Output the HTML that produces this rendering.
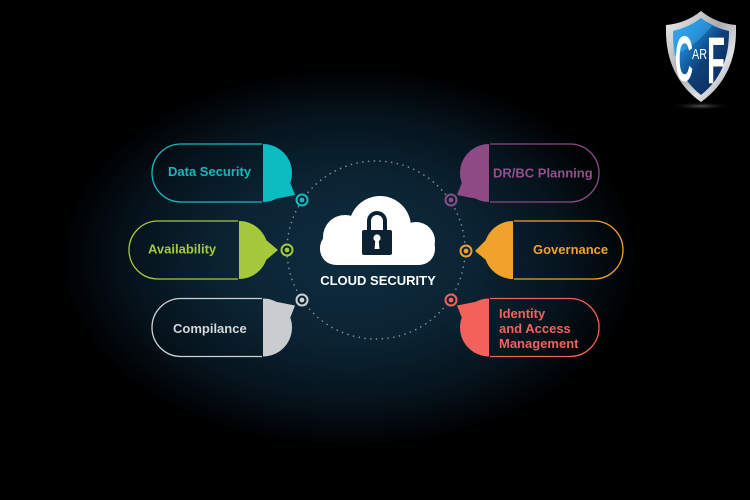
<!DOCTYPE html>
<html>
<head>
<meta charset="utf-8">
<style>
  html,body{margin:0;padding:0;}
  body{width:750px;height:500px;overflow:hidden;background:#000;}
  .bg{position:absolute;left:0;top:0;width:750px;height:500px;
      background:radial-gradient(ellipse 290px 190px at 350px 258px,#0e2c3e 0%,#0b2434 42%,#06141e 74%,#000 100%);}
  svg{position:absolute;left:0;top:0;}
  text{font-family:"Liberation Sans",sans-serif;font-weight:bold;}
</style>
</head>
<body>
<div class="bg"></div>
<svg width="750" height="500" viewBox="0 0 750 500" xmlns="http://www.w3.org/2000/svg">
  <defs>
    <linearGradient id="silver" x1="0" y1="0" x2="1" y2="1">
      <stop offset="0" stop-color="#f2f2f2"/>
      <stop offset="0.45" stop-color="#a9acb0"/>
      <stop offset="0.7" stop-color="#e0e2e4"/>
      <stop offset="1" stop-color="#7d8084"/>
    </linearGradient>
    <linearGradient id="blue" x1="0" y1="0" x2="1" y2="1">
      <stop offset="0" stop-color="#2ba6ef"/>
      <stop offset="0.3" stop-color="#1a7cc8"/>
      <stop offset="0.55" stop-color="#0e3f78"/>
      <stop offset="1" stop-color="#0a2650"/>
    </linearGradient>
    <radialGradient id="shadow" cx="0.5" cy="0.5" r="0.5">
      <stop offset="0" stop-color="#555"/>
      <stop offset="1" stop-color="#000" stop-opacity="0"/>
    </radialGradient>
  </defs>

  <!-- dotted circle -->
  <circle cx="376" cy="250" r="89" fill="none" stroke="#7f9099" stroke-width="1.7" stroke-linecap="round" stroke-dasharray="0 5.8"/>

  <!-- Data Security -->
  <path d="M262 144 L181 144 A29 29 0 0 0 181 202 L262 202" fill="none" stroke="#17b9be" stroke-width="1.3"/>
  <path d="M263 144 A29 29 0 0 1 263 202 Z" fill="#0bbcc1"/>
  <polygon points="290.3,182.9 295,195 276.6,198.6" fill="#0bbcc1"/>
  <text x="168" y="176" font-size="13" fill="#17b9be">Data Security</text>
  <circle cx="302" cy="200" r="5.5" fill="#0a2232" stroke="#17b9be" stroke-width="2"/>
  <circle cx="302" cy="200" r="2.4" fill="#17b9be"/>

  <!-- Availability -->
  <path d="M238 221 L158 221 A29 29 0 0 0 158 279 L238 279" fill="none" stroke="#a5c93b" stroke-width="1.3"/>
  <path d="M239 221 A29 29 0 0 1 239 279 Z" fill="#a5c93b"/>
  <polygon points="266.2,240.1 278,250 266.2,259.9" fill="#a5c93b"/>
  <text x="148" y="253.5" font-size="13" fill="#a5c93b">Availability</text>
  <circle cx="287" cy="250" r="5.5" fill="#0a2232" stroke="#a5c93b" stroke-width="2"/>
  <circle cx="287" cy="250" r="2.4" fill="#a5c93b"/>

  <!-- Compliance -->
  <path d="M262 298.5 L181 298.5 A29 29 0 0 0 181 356.5 L262 356.5" fill="none" stroke="#cdd1d4" stroke-width="1.3"/>
  <path d="M263 298.5 A29 29 0 0 1 263 356.5 Z" fill="#c9cdd0"/>
  <polygon points="290.3,317.6 295,305.5 276.6,301.9" fill="#c9cdd0"/>
  <text x="173" y="333" font-size="13" fill="#d3d7d9">Compilance</text>
  <circle cx="302" cy="300" r="5.5" fill="#0a2232" stroke="#cdd1d4" stroke-width="2"/>
  <circle cx="302" cy="300" r="2.4" fill="#cdd1d4"/>

  <!-- DR/BC Planning -->
  <path d="M490 144 L570 144 A29 29 0 0 1 570 202 L490 202" fill="none" stroke="#8d4a85" stroke-width="1.3"/>
  <path d="M489 144 A29 29 0 0 0 489 202 Z" fill="#8d4a85"/>
  <polygon points="461.8,182.9 457,195 475.4,198.6" fill="#8d4a85"/>
  <text x="493" y="177.5" font-size="13" fill="#944f8c">DR/BC Planning</text>
  <circle cx="451" cy="200" r="5.5" fill="#0a2232" stroke="#8d4a85" stroke-width="2"/>
  <circle cx="451" cy="200" r="2.4" fill="#8d4a85"/>

  <!-- Governance -->
  <path d="M514 221 L594 221 A29 29 0 0 1 594 279 L514 279" fill="none" stroke="#f0a22d" stroke-width="1.3"/>
  <path d="M513 221 A29 29 0 0 0 513 279 Z" fill="#f0a22d"/>
  <polygon points="485.8,240.1 475,251 485.8,259.9" fill="#f0a22d"/>
  <text x="533" y="254" font-size="13" fill="#f0a22d">Governance</text>
  <circle cx="466" cy="251" r="5.5" fill="#0a2232" stroke="#f0a22d" stroke-width="2"/>
  <circle cx="466" cy="251" r="2.4" fill="#f0a22d"/>

  <!-- Identity and Access Management -->
  <path d="M490 298.5 L570 298.5 A29 29 0 0 1 570 356.5 L490 356.5" fill="none" stroke="#f2625a" stroke-width="1.3"/>
  <path d="M489 298.5 A29 29 0 0 0 489 356.5 Z" fill="#f2625a"/>
  <polygon points="461.8,317.6 457,305.5 475.4,301.9" fill="#f2625a"/>
  <text x="499" y="318" font-size="13" fill="#f2625a">Identity</text>
  <text x="499" y="333" font-size="13" fill="#f2625a">and Access</text>
  <text x="499" y="348" font-size="13" fill="#f2625a">Management</text>
  <circle cx="451" cy="300" r="5.5" fill="#0a2232" stroke="#f2625a" stroke-width="2"/>
  <circle cx="451" cy="300" r="2.4" fill="#f2625a"/>

  <!-- Cloud -->
  <g fill="#ffffff">
    <rect x="320" y="232" width="115" height="33" rx="16"/>
    <circle cx="345" cy="237" r="22"/>
    <circle cx="380" cy="227" r="31"/>
    <circle cx="416" cy="241" r="19"/>
  </g>
  <!-- Lock -->
  <path d="M369 231 V221 A8 8 0 0 1 385 221 V231" fill="none" stroke="#0c2232" stroke-width="4"/>
  <rect x="362" y="230" width="30" height="25" rx="2" fill="#0c2232"/>
  <circle cx="377" cy="238" r="3.6" fill="#ffffff"/>
  <path d="M375.3 239 L374.6 249 L379.4 249 L378.7 239 Z" fill="#ffffff"/>
  <text x="378" y="285" font-size="13" fill="#ffffff" text-anchor="middle">CLOUD SECURITY</text>

  <!-- Logo -->
  <ellipse cx="701" cy="106" rx="30" ry="4" fill="url(#shadow)"/>
  <path d="M701 11 C712 20 724 24 736 25 L736 31 C736 60 725 85 701 102 C677 85 666 60 666 31 L666 25 C678 24 690 20 701 11 Z" fill="url(#silver)"/>
  <path d="M701 18 C710 25 720 29 729 31 C729 60 720 80 701 95 C682 80 673 60 673 31 C682 29 692 25 701 18 Z" fill="url(#blue)"/>
  <path d="M673 31 C682 29 692 25 701 18 C705 21 708 24 712 26 C700 40 688 50 673 56 Z" fill="#3bb4f5" opacity="0.45"/>
  <text x="675" y="81" font-size="64" fill="#ffffff" textLength="18" lengthAdjust="spacingAndGlyphs">C</text>
  <text x="707" y="83" font-size="66" fill="#ffffff" textLength="18" lengthAdjust="spacingAndGlyphs">F</text>
  <text x="692" y="59" font-size="15" fill="#ffffff" textLength="15" lengthAdjust="spacingAndGlyphs" style="font-weight:normal">AR</text>
</svg>
</body>
</html>
